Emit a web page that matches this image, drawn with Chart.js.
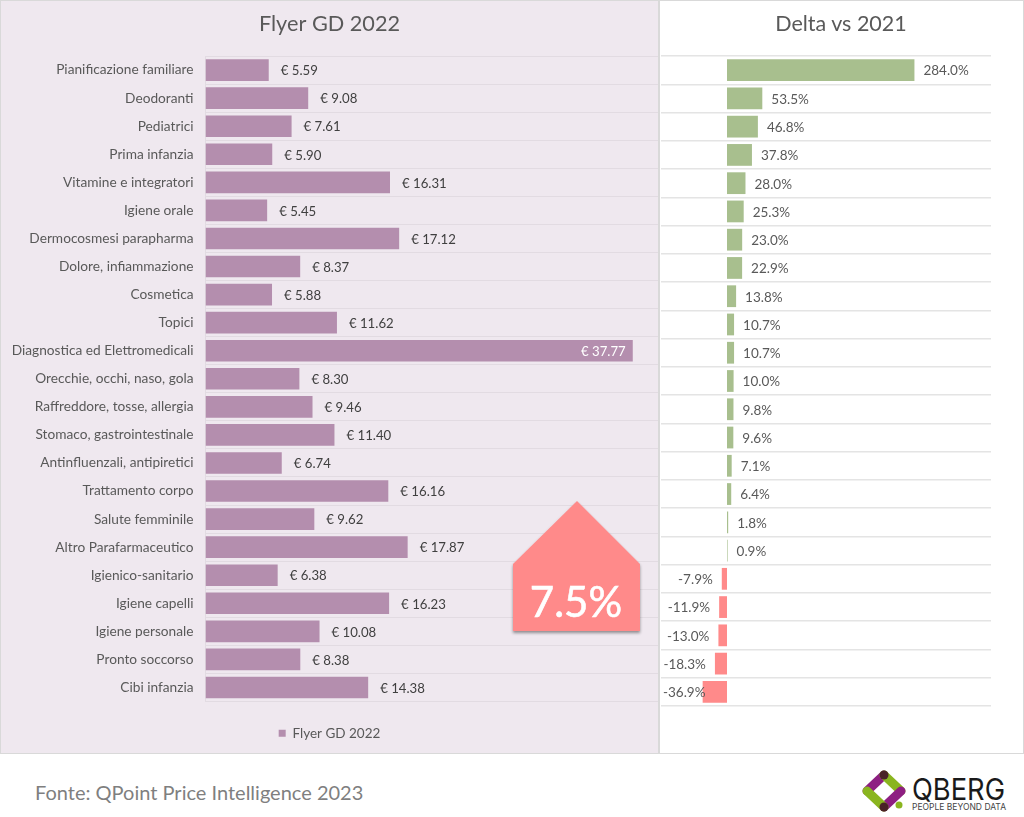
<!DOCTYPE html>
<html>
<head>
<meta charset="utf-8">
<script src="https://cdn.jsdelivr.net/npm/chart.js@4/dist/chart.umd.min.js"></script>
<style>
body { margin: 0; background: #fff; width: 1024px; height: 817px; overflow: hidden; font-family: Lato, sans-serif; }
.panel { position: absolute; top: 0; height: 754px; box-sizing: border-box; border: 1px solid #d9d9d9; }
#leftPanel { left: 0; width: 660px; background: #efe8ef; border-right-width: 2px; }
#rightPanel { left: 660px; width: 364px; background: #fff; border-left: 0; }
canvas { position: absolute; left: 0; top: 0; }
#deltaTitle { position: absolute; left: 0; top: 9px; width: 362px; text-align: center; font-size: 21.5px; line-height: 27px; color: #595959; }
#callout { position: absolute; left: 505px; top: 495px; }
#source { position: absolute; left: 35px; top: 780px; font-size: 20px; color: #7f7f7f; }
#logo { position: absolute; left: 860px; top: 765px; }
</style>
</head>
<body>
<div class="panel" id="leftPanel"><canvas id="flyerChart" width="657" height="752"></canvas></div>
<div class="panel" id="rightPanel"><canvas id="deltaChart" width="363" height="752"></canvas><div id="deltaTitle">Delta vs 2021</div></div>

<svg id="callout" width="145" height="150">
  <defs><filter id="sh" x="-10%" y="-10%" width="120%" height="120%"><feDropShadow dx="0" dy="2" stdDeviation="1.5" flood-color="#000" flood-opacity="0.4"/></filter></defs>
  <polygon points="72,6 135,69 135,136 8,136 8,69" fill="#ff8a8a" filter="url(#sh)"/>
  <text x="71" y="122" text-anchor="middle" font-family="Lato" font-size="42" fill="#fff" stroke="#fff" stroke-width="0.6">7.5%</text>
</svg>

<div id="source">Fonte: QPoint Price Intelligence 2023</div>

<svg id="logo" width="160" height="50">
  <g stroke-width="9" stroke-linecap="round" fill="none">
    <line x1="7" y1="26" x2="24" y2="10" stroke="#8e1f82"/>
    <line x1="24" y1="10" x2="41" y2="26" stroke="#8ab51f"/>
    <line x1="41" y1="26" x2="24" y2="42" stroke="#8e1f82"/>
    <line x1="24" y1="42" x2="7" y2="26" stroke="#8ab51f"/>
  </g>
  <circle cx="24" cy="10" r="4.5" fill="#4a2226"/>
  <circle cx="24" cy="42" r="4.5" fill="#4a2226"/>
  <circle cx="39" cy="40" r="3.5" fill="#8ab51f"/>
  <text x="52" y="35" font-family="Inter" font-size="30" fill="#1a1a1a" textLength="93" lengthAdjust="spacingAndGlyphs">QBERG</text>
  <text x="52" y="45" font-family="Inter" font-size="9" fill="#444" textLength="94" lengthAdjust="spacingAndGlyphs">PEOPLE BEYOND DATA</text>
</svg>

<script>
const categories = [
  "Pianificazione familiare", "Deodoranti", "Pediatrici", "Prima infanzia",
  "Vitamine e integratori", "Igiene orale", "Dermocosmesi parapharma",
  "Dolore, infiammazione", "Cosmetica", "Topici", "Diagnostica ed Elettromedicali",
  "Orecchie, occhi, naso, gola", "Raffreddore, tosse, allergia",
  "Stomaco, gastrointestinale", "Antinfluenzali, antipiretici", "Trattamento corpo",
  "Salute femminile", "Altro Parafarmaceutico", "Igienico-sanitario", "Igiene capelli",
  "Igiene personale", "Pronto soccorso", "Cibi infanzia"
];
const flyerValues = [5.59, 9.08, 7.61, 5.90, 16.31, 5.45, 17.12, 8.37, 5.88, 11.62, 37.77,
  8.30, 9.46, 11.40, 6.74, 16.16, 9.62, 17.87, 6.38, 16.23, 10.08, 8.38, 14.38];
const deltaValues = [284.0, 53.5, 46.8, 37.8, 28.0, 25.3, 23.0, 22.9, 13.8, 10.7, 10.7,
  10.0, 9.8, 9.6, 7.1, 6.4, 1.8, 0.9, -7.9, -11.9, -13.0, -18.3, -36.9];

const FONT = "Lato";
const TEXT = "#595959";
const PURPLE = "#b48eae";
const GREEN = "#a8bf8e";
const RED = "#ff8a8a";

// draws the value next to each bar
const flyerLabels = {
  id: "flyerLabels",
  afterDatasetsDraw(chart) {
    const ctx = chart.ctx;
    ctx.save();
    ctx.font = "13.2px " + FONT;
    ctx.textBaseline = "middle";
    chart.getDatasetMeta(0).data.forEach(function (bar, i) {
      const text = "€ " + flyerValues[i].toFixed(2);
      if (flyerValues[i] > 30) {
        ctx.fillStyle = "#fff";
        ctx.textAlign = "right";
        ctx.fillText(text, bar.x - 7, bar.y + 1);
      } else {
        ctx.fillStyle = "#404040";
        ctx.textAlign = "left";
        ctx.fillText(text, bar.x + 12, bar.y + 1);
      }
    });
    ctx.restore();
  }
};

const deltaLabels = {
  id: "deltaLabels",
  afterDatasetsDraw(chart) {
    const ctx = chart.ctx;
    ctx.save();
    ctx.font = "13.5px " + FONT;
    ctx.textBaseline = "middle";
    ctx.fillStyle = "#595959";
    chart.getDatasetMeta(0).data.forEach(function (bar, i) {
      const text = deltaValues[i].toFixed(1) + "%";
      if (deltaValues[i] >= 0) {
        ctx.textAlign = "left";
        ctx.fillText(text, bar.x + 9, bar.y + 1);
      } else {
        // negative labels stay inside the panel, the longest one runs over its bar
        ctx.textAlign = "right";
        ctx.fillText(text, Math.max(bar.x - 9, ctx.measureText(text).width + 3), bar.y + 1);
      }
    });
    ctx.restore();
  }
};

new Chart(document.getElementById("flyerChart"), {
  type: "bar",
  data: {
    labels: categories,
    datasets: [{ label: "Flyer GD 2022", data: flyerValues, backgroundColor: PURPLE,
      barPercentage: 0.77, categoryPercentage: 1 }]
  },
  options: {
    indexAxis: "y",
    responsive: false,
    animation: false,
    layout: { padding: { bottom: 3 } },
    scales: {
      // kept only as a spacer between the plot and the legend
      x: {
        min: 0, max: 40,
        grid: { display: false }, border: { display: false }, ticks: { display: false },
        afterFit(scale) { scale.height = 10; }
      },
      y: {
        afterFit(scale) { scale.width = 204.5; },
        grid: { color: "#e2dbe2", lineWidth: 1, drawTicks: false },
        border: { color: "#e2dbe2" },
        ticks: { color: TEXT, font: { family: FONT, size: 13.7 }, padding: 12, autoSkip: false }
      }
    },
    plugins: {
      title: { display: true, text: "Flyer GD 2022", color: TEXT, font: { family: FONT, size: 21.7, weight: "normal" }, padding: { top: 10, bottom: 19 } },
      legend: {
        display: true, position: "bottom",
        labels: { color: TEXT, boxWidth: 7, boxHeight: 7, padding: 15, font: { family: FONT, size: 13.5 } }
      },
      tooltip: { enabled: false }
    }
  },
  plugins: [flyerLabels]
});

new Chart(document.getElementById("deltaChart"), {
  type: "bar",
  data: {
    labels: categories,
    datasets: [{ data: deltaValues,
      backgroundColor: deltaValues.map(function (v) { return v >= 0 ? GREEN : RED; }),
      barPercentage: 0.77, categoryPercentage: 1 }]
  },
  options: {
    indexAxis: "y",
    responsive: false,
    animation: false,
    layout: { padding: { left: 1, right: 32, top: 55, bottom: 47 } },
    scales: {
      x: { display: false, min: -100, max: 400 },
      y: {
        grid: { color: "#e4e4e4", lineWidth: 1.5, drawTicks: false },
        border: { display: false },
        ticks: { display: false }
      }
    },
    plugins: {
      legend: { display: false },
      tooltip: { enabled: false }
    }
  },
  plugins: [deltaLabels]
});
</script>
</body>
</html>
